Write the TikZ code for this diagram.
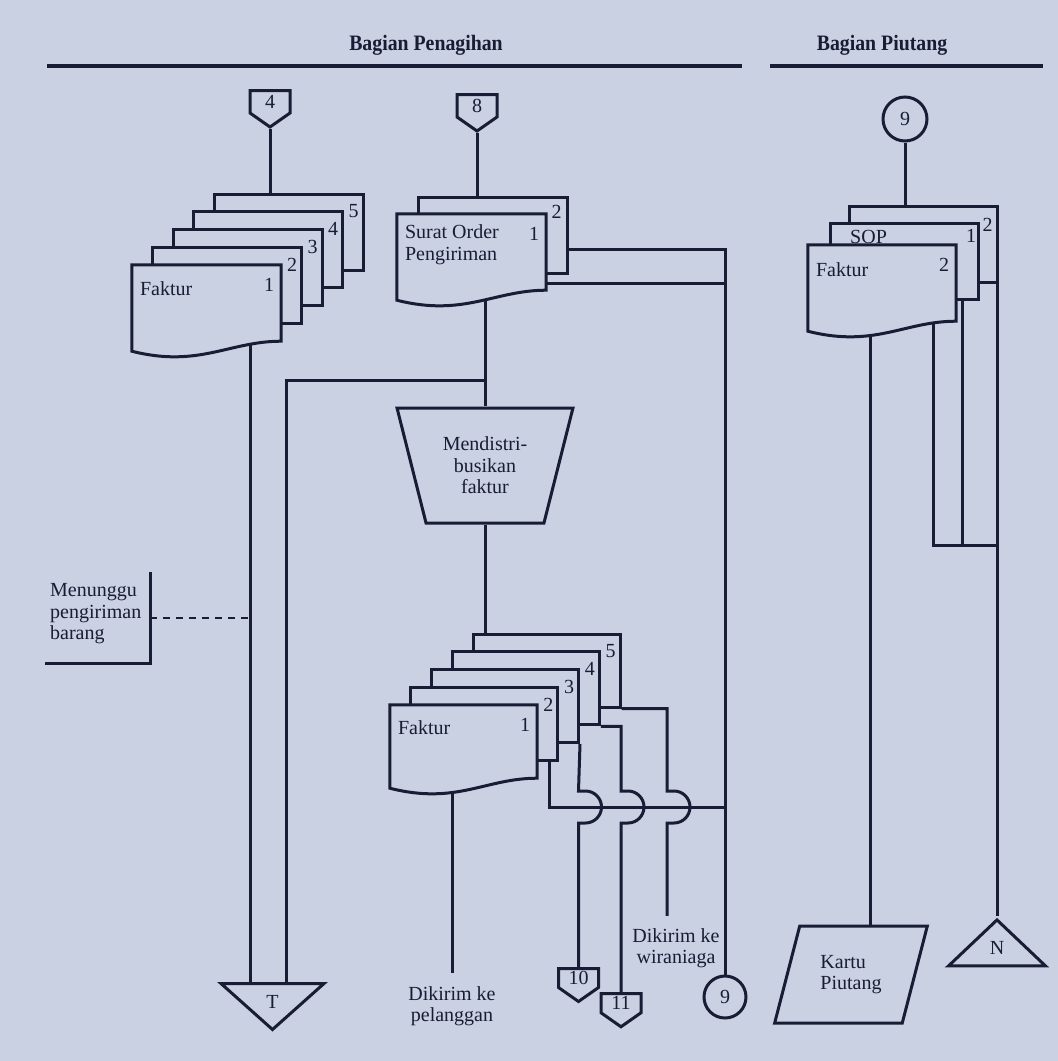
\documentclass[tikz,border=0pt]{standalone}
\usepackage{fontspec}
\setmainfont{Liberation Serif}
\newfontfamily\headfont{Liberation Serif}[FakeStretch=0.9]
\usetikzlibrary{calc,shapes.geometric,shapes.symbols}
\definecolor{paper}{RGB}{201,209,226}
\definecolor{ink}{RGB}{24,28,52}
\pgfdeclarelayer{paper}
\pgfdeclarelayer{wires}
\pgfsetlayers{paper,wires,main}
\tikzset{
  txt/.style={font=\fontsize{20}{21.5}\selectfont, text=ink, inner sep=0pt},
  num/.style={txt},
  backdoc/.style={draw=ink, fill=paper, line width=3pt, minimum width=149pt, minimum height=76pt, inner sep=0pt},
  frontdoc/.style={minimum width=149pt, minimum height=76pt, inner sep=0pt},
  offpage/.style={signal, signal to=south, signal from=nowhere, signal pointer angle=110, draw=ink, fill=paper, line width=3pt, txt, minimum width=40pt, minimum height=26pt, anchor=north},
  conn/.style={circle, draw=ink, fill=paper, line width=3pt, txt},
  filetri/.style={isosceles triangle, isosceles triangle stretches, draw=ink, fill=paper, line width=3pt, txt, anchor=north},
  wire/.style={draw=ink, line width=3pt},
}
% document with a wavy bottom: name, text, number, text offset
\newcommand\wavedoc[4]{%
  \filldraw[draw=ink, fill=paper, line width=3pt]
    (#1.north west) -- (#1.north east) -- (#1.south east)
    .. controls ($(#1.south east)+(-52,0)$) and ($(#1.south west)+(67,27)$) .. ($(#1.south west)+(0,10)$) -- cycle;
  \node[txt, align=left, anchor=north west] (#1-t) at ($(#1.north west)+(8,#4)$) {#2};
  \node[num] (#1-n) at ($(#1.north east)+(-12,20)$) {#3};
}
\begin{document}
\begin{tikzpicture}[x=1pt, y=-1pt]
  \begin{pgfonlayer}{paper}
    \fill[paper] (0,0) rectangle (1058,1061);
  \end{pgfonlayer}
  \useasboundingbox (0,0) rectangle (1058,1061);

  % headers
  \node[font=\headfont\bfseries\fontsize{22}{24}\selectfont, text=ink] (hpen) at (426,45) {Bagian Penagihan};
  \node[font=\headfont\bfseries\fontsize{22}{24}\selectfont, text=ink] (hpiu) at (882,45) {Bagian Piutang};
  \draw[ink, line width=4pt] (47,66) -- (742,66);
  \draw[ink, line width=4pt] (770,66) -- (1043,66);

  % Bagian Penagihan: faktur
  \node[offpage] (c4) at (270,89) {4};
  \foreach \i/\cx/\cy in {5/288.5/232, 4/268/249.75, 3/247.5/267.5, 2/227/285.25}{
    \node[backdoc] (fk\i) at (\cx,\cy) {};
    \node[num] (fk\i-n) at ($(fk\i.north east)+(-11,19)$) {\i};
  }
  \node[frontdoc] (fk1) at (206.5,303) {};
  \wavedoc{fk1}{Faktur}{1}{17}

  % surat order pengiriman
  \node[offpage] (c8) at (477,93) {8};
  \node[backdoc] (sop2) at (492.5,235) {};
  \node[num] (sop2-n) at ($(sop2.north east)+(-12,16)$) {2};
  \node[frontdoc] (sop1) at (471.5,252) {};
  \wavedoc{sop1}{Surat Order\\Pengiriman}{1}{11}

  \node[trapezium, shape border rotate=180, trapezium left angle=70, trapezium right angle=70,
    trapezium stretches=true, minimum width=176pt, minimum height=115pt,
    draw=ink, fill=paper, line width=3pt, txt, align=center] (mf) at (485,465.5) {Mendistri-\\busikan\\faktur};

  % faktur didistribusikan
  \foreach \i/\cx/\cy in {5/546.5/670.5, 4/525.75/688.25, 3/505/706, 2/484.25/723.75}{
    \node[backdoc, minimum width=147pt, minimum height=73pt] (fb\i) at (\cx,\cy) {};
    \node[num] (fb\i-n) at ($(fb\i.north east)+(-11,19)$) {\i};
  }
  \node[frontdoc, minimum width=147pt, minimum height=73pt] (fb1) at (463.5,741.5) {};
  \wavedoc{fb1}{Faktur}{1}{16}

  \node[txt, align=left, anchor=west] (mng) at (50,614) {Menunggu\\pengiriman\\barang};
  \node[filetri, shape border rotate=270, minimum width=103pt, minimum height=46pt] (tfile) at (272.5,982) {T};
  \node[txt, align=center] (kpl) at (452,1006) {Dikirim ke\\pelanggan};
  \node[txt, align=center] (kwr) at (676,948) {Dikirim ke\\wiraniaga};
  \node[offpage] (c10) at (578.5,967) {10};
  \node[offpage] (c11) at (621,992) {11};
  \node[conn, minimum size=42pt] (c9b) at (725,997) {9};

  % Bagian Piutang
  \node[conn, minimum size=44pt] (c9t) at (905,119) {9};
  \node[backdoc, minimum width=148pt] (pb2) at (923,244) {};
  \node[num] (pb2-n) at ($(pb2.north east)+(-11,20)$) {2};
  \node[backdoc, minimum width=148pt] (pb1) at (904.5,261) {};
  \node[num] (pb1-n) at ($(pb1.north east)+(-9,14)$) {1};
  \node[txt, anchor=north west] (pb1-t) at ($(pb1.north west)+(21,9)$) {SOP};
  \node[frontdoc, minimum width=148pt] (pf) at (882,283) {};
  \wavedoc{pf}{Faktur}{2}{18}
  \node[trapezium, trapezium left angle=69, trapezium right angle=111, trapezium stretches=true,
    minimum width=154pt, minimum height=97pt, draw=ink, fill=paper, line width=3pt,
    txt, align=left] (kp) at (851,974.5) {Kartu\\Piutang};
  \node[filetri, shape border rotate=90, minimum width=97pt, minimum height=46pt] (ntri) at (997,916) {N};

  % junctions
  \coordinate (vf) at (250,618);
  \coordinate (vs) at (286,380);
  \coordinate (js) at (485,380);
  \coordinate (r9) at (725,249);
  \coordinate (ys1) at (0,283);
  \coordinate (h2) at (549,807);
  \coordinate (hop3) at (578.5,791);
  \coordinate (hop4) at (621,791);
  \coordinate (hop5) at (667,791);
  \coordinate (vk) at (870,0);
  \coordinate (jp) at (933,545);
  \coordinate (jq) at (962,545);

  \begin{pgfonlayer}{wires}
    \draw[wire] (c4.south) -- (c4.south |- fk5.north);
    \draw[wire] (fk1.south -| vf) -- (vf |- tfile.north);
    \draw[wire, dashed, dash pattern=on 7pt off 6pt, line width=2.6pt] (150,618) -- (vf);
    \draw[wire] (150,572) -- (150,663) -- (45,663);
    \draw[wire] (c8.south) -- (c8.south |- sop2.north);
    \draw[wire] (sop1.south -| js) -- (js |- mf.north);
    \draw[wire] (js) -- (vs) -- (vs |- tfile.north);
    \draw[wire] (sop2.east |- r9) -- (r9) -- (r9 |- c9b.north);
    \draw[wire] (sop1.east |- ys1) -- (r9 |- ys1);
    \draw[wire] (mf.south) -- (mf.south |- fb5.north);
    \draw[wire, shorten >=13pt] (fb1.south -| kpl) -- (kpl.north);
    \draw[wire] (fb2.south -| h2) -- (h2) -- (r9 |- h2);
    \draw[wire] (fb3.south east) -- (hop3) -- ++(7,0) arc[start angle=-90, end angle=90, radius=16] -- ++(-7,0) -- (c10.north);
    \draw[wire] (fb4.south east) -- (hop4 |- fb4.south east) -- (hop4) -- ++(7,0) arc[start angle=-90, end angle=90, radius=16] -- ++(-7,0) -- (c11.north);
    \draw[wire, shorten >=12pt] (fb5.south east) -- (hop5 |- fb5.south east) -- (hop5) -- ++(7,0) arc[start angle=-90, end angle=90, radius=16] -- ++(-7,0) -- (hop5 |- kwr.north);
    \draw[wire] (c9t.south) -- (c9t.south |- pb2.north);
    \draw[wire] (pf.south -| vk) -- (vk |- kp.north);
    \draw[wire] (pf.south -| jp) -- (jp) -- (jp -| ntri.north);
    \draw[wire] (pb1.south -| jq) -- (jq);
    \draw[wire] (ntri.north |- pb2.south) -- (ntri.north);
  \end{pgfonlayer}
\end{tikzpicture}
\end{document}
